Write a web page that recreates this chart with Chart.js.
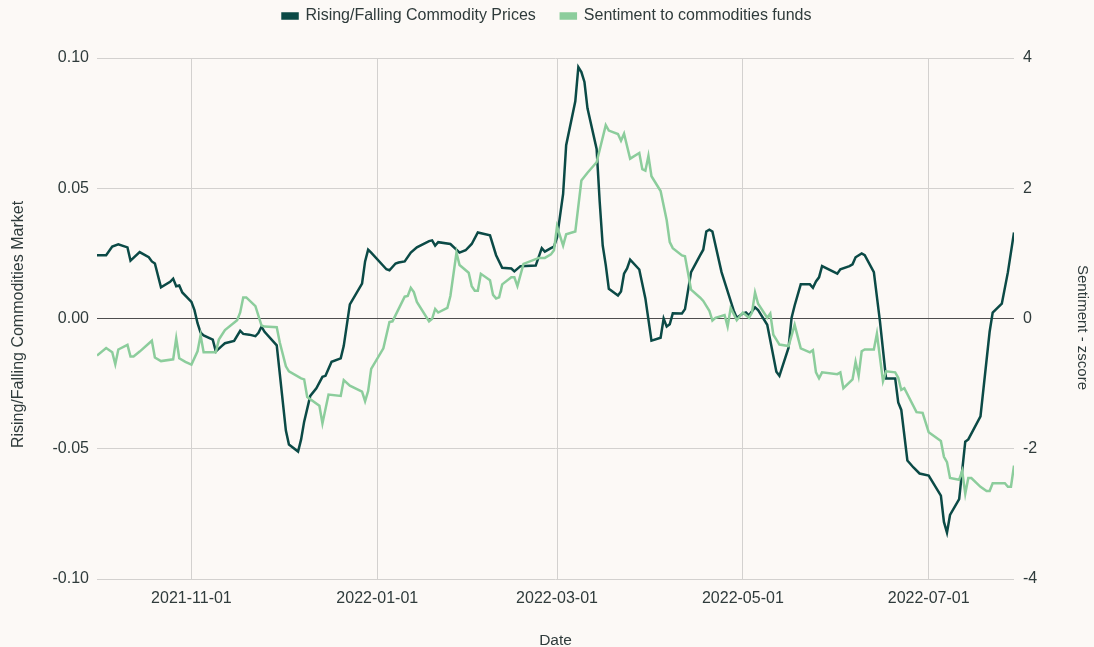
<!DOCTYPE html>
<html>
<head>
<meta charset="utf-8">
<script src="https://cdn.jsdelivr.net/npm/chart.js@4"></script>
<style>
  html, body { margin: 0; padding: 0; background: #fcf9f6; }
  canvas { display: block; }
</style>
</head>
<body>
<canvas id="chart" width="1094" height="647"></canvas>
<script>
var startDate = '2021-10-01';
var endDate = '2022-07-29';
var tickDates = ['2021-11-01', '2022-01-01', '2022-03-01', '2022-05-01', '2022-07-01'];

var priceDates = [
  '2021-10-01','2021-10-04','2021-10-06','2021-10-08','2021-10-11','2021-10-12','2021-10-15','2021-10-18','2021-10-19','2021-10-20','2021-10-22','2021-10-25','2021-10-26','2021-10-27','2021-10-28','2021-10-29',
  '2021-11-01','2021-11-02','2021-11-03','2021-11-04','2021-11-05','2021-11-08','2021-11-09','2021-11-11','2021-11-12','2021-11-15','2021-11-17','2021-11-18','2021-11-20','2021-11-22','2021-11-23','2021-11-24','2021-11-25','2021-11-29',
  '2021-12-02','2021-12-03','2021-12-06','2021-12-07','2021-12-08','2021-12-10','2021-12-12','2021-12-14','2021-12-15','2021-12-17','2021-12-20','2021-12-21','2021-12-23','2021-12-27','2021-12-28','2021-12-29','2021-12-30',
  '2022-01-04','2022-01-05','2022-01-07','2022-01-08','2022-01-10','2022-01-12','2022-01-14','2022-01-18','2022-01-19','2022-01-20','2022-01-21','2022-01-25','2022-01-28','2022-01-30',
  '2022-02-01','2022-02-03','2022-02-07','2022-02-09','2022-02-11','2022-02-14','2022-02-15','2022-02-17','2022-02-22','2022-02-24','2022-02-25','2022-02-27','2022-02-28',
  '2022-03-01','2022-03-02','2022-03-03','2022-03-04','2022-03-07','2022-03-08','2022-03-09','2022-03-10','2022-03-11','2022-03-14','2022-03-15','2022-03-16','2022-03-17','2022-03-18','2022-03-21','2022-03-22','2022-03-23','2022-03-24','2022-03-25','2022-03-28','2022-03-30',
  '2022-04-01','2022-04-04','2022-04-05','2022-04-06','2022-04-07','2022-04-08','2022-04-11','2022-04-12','2022-04-14','2022-04-17','2022-04-18','2022-04-19','2022-04-20','2022-04-21','2022-04-24','2022-04-28','2022-04-29',
  '2022-05-01','2022-05-02','2022-05-03','2022-05-05','2022-05-06','2022-05-09','2022-05-12','2022-05-13','2022-05-16','2022-05-17','2022-05-18','2022-05-20','2022-05-23','2022-05-24','2022-05-25','2022-05-26','2022-05-27',
  '2022-06-01','2022-06-02','2022-06-05','2022-06-06','2022-06-07','2022-06-09','2022-06-10','2022-06-13','2022-06-15','2022-06-17','2022-06-20','2022-06-21','2022-06-22','2022-06-24','2022-06-26','2022-06-28',
  '2022-07-01','2022-07-05','2022-07-06','2022-07-07','2022-07-08','2022-07-11','2022-07-13','2022-07-14','2022-07-18','2022-07-21','2022-07-22','2022-07-25','2022-07-27','2022-07-29'
];
var priceValues = [
  0.0243, 0.0243, 0.0276, 0.0285, 0.0273, 0.0222, 0.0255, 0.0235, 0.0219, 0.0211, 0.0120, 0.0141, 0.0153, 0.0124, 0.0127, 0.0100,
  0.0064, 0.0032, -0.0018, -0.0054, -0.0065, -0.0081, -0.0126, -0.0105, -0.0095, -0.0086, -0.0047, -0.0059, -0.0062, -0.0068, -0.0055, -0.0031, -0.0051, -0.0103,
  -0.0430, -0.0484, -0.0511, -0.0464, -0.0396, -0.0297, -0.0268, -0.0224, -0.0220, -0.0166, -0.0153, -0.0105, 0.0054, 0.0134, 0.0219, 0.0264, 0.0253,
  0.0189, 0.0185, 0.0211, 0.0215, 0.0219, 0.0253, 0.0273, 0.0297, 0.0300, 0.0280, 0.0293, 0.0286, 0.0253, 0.0262,
  0.0286, 0.0330, 0.0319, 0.0243, 0.0195, 0.0192, 0.0181, 0.0201, 0.0203, 0.0270, 0.0257, 0.0270, 0.0276,
  0.0311, 0.0395, 0.0478, 0.0665, 0.0834, 0.0965, 0.0946, 0.0908, 0.0807, 0.0651, 0.0449, 0.0280, 0.0205, 0.0114, 0.0088, 0.0104, 0.0172, 0.0192, 0.0226, 0.0188, 0.0077,
  -0.0085, -0.0074, 0.0000, -0.0031, -0.0022, 0.0020, 0.0019, 0.0036, 0.0178, 0.0243, 0.0264, 0.0334, 0.0341, 0.0334, 0.0178, 0.0030, 0.0003,
  0.0019, 0.0023, 0.0012, 0.0043, 0.0032, -0.0024, -0.0204, -0.0220, -0.0112, 0.0003, 0.0050, 0.0131, 0.0131, 0.0118, 0.0142, 0.0158, 0.0201,
  0.0172, 0.0189, 0.0201, 0.0208, 0.0235, 0.0250, 0.0243, 0.0178, -0.0011, -0.0230, -0.0230, -0.0322, -0.0351, -0.0545, -0.0572, -0.0595,
  -0.0603, -0.0680, -0.0781, -0.0822, -0.0754, -0.0693, -0.0473, -0.0464, -0.0376, -0.0051, 0.0023, 0.0057, 0.0178, 0.0330
];

var sentimentDates = [
  '2021-10-01','2021-10-04','2021-10-06','2021-10-07','2021-10-08','2021-10-11','2021-10-12','2021-10-13','2021-10-15','2021-10-19','2021-10-20','2021-10-22','2021-10-26','2021-10-27','2021-10-28','2021-10-30',
  '2021-11-01','2021-11-03','2021-11-04','2021-11-05','2021-11-09','2021-11-10','2021-11-12','2021-11-16','2021-11-17','2021-11-18','2021-11-19','2021-11-22','2021-11-24','2021-11-25','2021-11-29','2021-11-30',
  '2021-12-02','2021-12-03','2021-12-07','2021-12-08','2021-12-09','2021-12-13','2021-12-14','2021-12-16','2021-12-20','2021-12-21','2021-12-23','2021-12-27','2021-12-28','2021-12-29','2021-12-30',
  '2022-01-03','2022-01-05','2022-01-06','2022-01-10','2022-01-11','2022-01-12','2022-01-13','2022-01-14','2022-01-18','2022-01-19','2022-01-20','2022-01-21','2022-01-24','2022-01-25','2022-01-27','2022-01-28','2022-01-31',
  '2022-02-01','2022-02-02','2022-02-03','2022-02-04','2022-02-07','2022-02-08','2022-02-09','2022-02-10','2022-02-11','2022-02-14','2022-02-15','2022-02-16','2022-02-18','2022-02-23','2022-02-25','2022-02-27','2022-02-28',
  '2022-03-01','2022-03-03','2022-03-04','2022-03-07','2022-03-09','2022-03-11','2022-03-14','2022-03-17','2022-03-18','2022-03-21','2022-03-22','2022-03-23','2022-03-25','2022-03-28','2022-03-29','2022-03-30','2022-03-31',
  '2022-04-01','2022-04-04','2022-04-06','2022-04-07','2022-04-08','2022-04-11','2022-04-12','2022-04-14','2022-04-17','2022-04-18','2022-04-20','2022-04-21','2022-04-22','2022-04-25','2022-04-26','2022-04-27','2022-04-29',
  '2022-05-01','2022-05-03','2022-05-04','2022-05-05','2022-05-06','2022-05-09','2022-05-10','2022-05-11','2022-05-12','2022-05-13','2022-05-16','2022-05-18','2022-05-20','2022-05-23','2022-05-24','2022-05-25','2022-05-26','2022-05-27',
  '2022-06-01','2022-06-02','2022-06-03','2022-06-06','2022-06-07','2022-06-08','2022-06-09','2022-06-10','2022-06-13','2022-06-14','2022-06-16','2022-06-17','2022-06-20','2022-06-21','2022-06-22','2022-06-23','2022-06-27','2022-06-29',
  '2022-07-01','2022-07-05','2022-07-06','2022-07-07','2022-07-08','2022-07-11','2022-07-12','2022-07-13','2022-07-14','2022-07-15','2022-07-18','2022-07-20','2022-07-21','2022-07-22','2022-07-26','2022-07-27','2022-07-28','2022-07-29'
];
var sentimentValues = [
  -0.568, -0.454, -0.519, -0.703, -0.476, -0.405, -0.584, -0.584, -0.508, -0.341, -0.600, -0.654, -0.627, -0.303, -0.611, -0.665,
  -0.708, -0.503, -0.259, -0.519, -0.519, -0.324, -0.178, -0.027, 0.092, 0.324, 0.324, 0.189, -0.108, -0.124, -0.135, -0.368,
  -0.735, -0.811, -0.919, -0.935, -1.205, -1.341, -1.611, -1.168, -1.189, -0.946, -1.032, -1.124, -1.270, -1.114, -0.773,
  -0.459, -0.054, -0.043, 0.335, 0.346, 0.470, 0.405, 0.254, -0.043, -0.005, 0.146, 0.092, 0.162, 0.346, 1.011, 0.822, 0.703,
  0.497, 0.427, 0.427, 0.686, 0.589, 0.362, 0.308, 0.324, 0.524, 0.632, 0.632, 0.497, 0.838, 0.930, 0.930, 0.984, 1.049,
  1.416, 1.119, 1.292, 1.335, 2.119, 2.238, 2.400, 2.968, 2.886, 2.832, 2.730, 2.838, 2.454, 2.541, 2.292, 2.270, 2.497,
  2.184, 1.957, 1.508, 1.173, 1.081, 0.968, 0.957, 0.443, 0.319, 0.270, 0.119, -0.032, 0.011, 0.054, -0.124, 0.162, -0.027,
  0.092, 0.011, 0.092, 0.400, 0.227, 0.011, 0.076, -0.249, -0.324, -0.400, -0.422, -0.097, -0.459, -0.519, -0.486, -0.827, -0.919, -0.827,
  -0.854, -0.827, -1.070, -0.935, -0.665, -0.881, -0.503, -0.476, -0.476, -0.232, -0.962, -0.811, -0.827, -0.908, -1.097, -1.070, -1.438, -1.449,
  -1.746, -1.881, -2.124, -2.205, -2.449, -2.476, -2.341, -2.692, -2.449, -2.449, -2.584, -2.649, -2.649, -2.530, -2.530, -2.584, -2.584, -2.259
];

var darkColor = '#0b4a46';
var lightColor = '#8ccd9c';
var textColor = '#2f3b3b';
var gridColor = '#d3d1cf';
var fontFamily = "'Liberation Sans', Arial, sans-serif";

function toPoints(dates, values) {
  return dates.map(function(d, i) { return { x: Date.parse(d), y: values[i] }; });
}
function fmtDate(v) {
  return new Date(v).toISOString().slice(0, 10);
}

Chart.defaults.font.family = fontFamily;
Chart.defaults.font.size = 16;
Chart.defaults.color = textColor;

// legend: fixed block height, text pulled up
var legendLayout = {
  id: 'legendLayout',
  beforeInit: function(chart) {
    var legend = chart.legend;
    var fit = legend.fit;
    legend.fit = function() {
      fit.apply(this, arguments);
      this.height = 58;
    };
    var draw = legend.draw;
    legend.draw = function() {
      var ctx = this.ctx;
      ctx.save();
      ctx.translate(0, -17);
      draw.apply(this, arguments);
      ctx.restore();
    };
  },
  // y titles sit a little below the plot middle in the reference
  afterLayout: function(chart) {
    [['y', 6], ['y2', 9]].forEach(function(p) {
      var s = chart.scales[p[0]];
      if (!s || s._titleShifted) return;
      var orig = s.drawTitle;
      s.drawTitle = function() {
        this.ctx.save();
        this.ctx.translate(0, p[1]);
        orig.apply(this, arguments);
        this.ctx.restore();
      };
      s._titleShifted = true;
    });
  }
};

new Chart(document.getElementById('chart'), {
  type: 'line',
  data: {
    datasets: [{
      label: 'Rising/Falling Commodity Prices',
      data: toPoints(priceDates, priceValues),
      yAxisID: 'y',
      borderColor: darkColor,
      backgroundColor: darkColor,
      borderWidth: 2.5,
      pointRadius: 0,
      tension: 0,
      order: 1
    }, {
      label: 'Sentiment to commodities funds',
      data: toPoints(sentimentDates, sentimentValues),
      yAxisID: 'y2',
      borderColor: lightColor,
      backgroundColor: lightColor,
      borderWidth: 2.5,
      pointRadius: 0,
      tension: 0,
      order: 0
    }]
  },
  options: {
    responsive: false,
    animation: false,
    parsing: false,
    layout: { padding: 0 },
    plugins: {
      legend: {
        position: 'top',
        labels: {
          boxWidth: 15,
          boxHeight: 5,
          padding: 25,
          color: textColor,
          font: { size: 16 },
          sort: function(a, b) { return a.datasetIndex - b.datasetIndex; }
        }
      },
      tooltip: { enabled: false }
    },
    scales: {
      x: {
        type: 'linear',
        min: Date.parse(startDate),
        max: Date.parse(endDate),
        afterBuildTicks: function(scale) {
          scale.ticks = tickDates.map(function(d) { return { value: Date.parse(d) }; });
        },
        afterFit: function(scale) { scale.height = 68; },
        ticks: {
          autoSkip: false,
          maxRotation: 0,
          padding: 10,
          callback: function(v) { return fmtDate(v); }
        },
        grid: { color: gridColor, drawTicks: false },
        border: { display: false },
        title: { display: true, text: 'Date', font: { size: 15.5 }, padding: { top: 0, bottom: -3 } }
      },
      y: {
        position: 'left',
        min: -0.1,
        max: 0.1,
        afterFit: function(scale) { scale.width = 97; },
        ticks: {
          stepSize: 0.05,
          padding: 8,
          callback: function(v) { return v.toFixed(2); }
        },
        grid: {
          drawTicks: false,
          color: function(ctx) {
            return ctx.tick && Math.abs(ctx.tick.value) < 1e-9 ? '#4d4d4d' : gridColor;
          }
        },
        border: { display: false },
        title: { display: true, text: 'Rising/Falling Commodities Market', font: { size: 16 }, padding: { top: 9, bottom: 0 } }
      },
      y2: {
        position: 'right',
        min: -4,
        max: 4,
        afterFit: function(scale) { scale.width = 80; },
        ticks: {
          stepSize: 2,
          padding: 9,
          callback: function(v) { return String(v); }
        },
        grid: { display: false, drawTicks: false },
        border: { display: false },
        title: { display: true, text: 'Sentiment - zscore', font: { size: 15 }, padding: { top: 3, bottom: 0 } }
      }
    }
  },
  plugins: [legendLayout]
});
</script>
</body>
</html>
